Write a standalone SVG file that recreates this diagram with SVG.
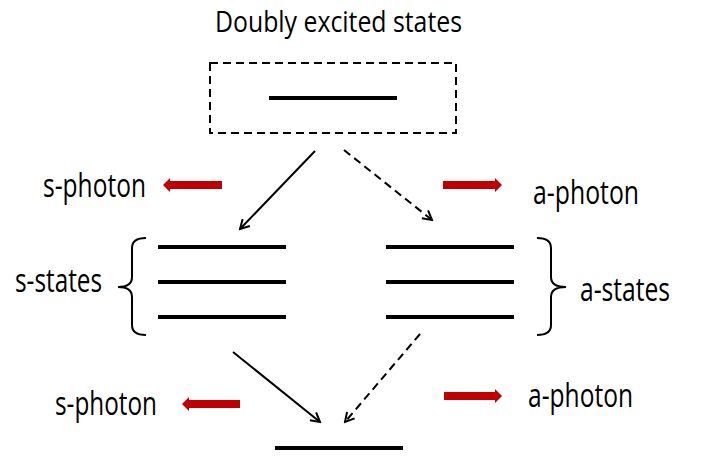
<svg xmlns="http://www.w3.org/2000/svg" width="708" height="460" viewBox="0 0 708 460">
<defs>
<style>
.t{font-family:"Open Sans","Liberation Sans",sans-serif;font-size:32px;fill:#000}
.lvl{stroke:#000;stroke-width:4;fill:none}
.ar{stroke:#000;stroke-width:2;fill:none}
.da{stroke-dasharray:8,5}
.br{stroke:#000;stroke-width:2;fill:none}
.ph{fill:#c00000}
</style>
<marker id="ah" markerWidth="12" markerHeight="12" refX="10" refY="6" orient="auto" markerUnits="userSpaceOnUse">
<path d="M1,1 L10,6 L1,11" fill="none" stroke="#000" stroke-width="2"/>
</marker>
</defs>
<rect width="708" height="460" fill="#fff"/>
<g id="doubly">
<text class="t" x="215" y="32" style="font-size:30px" textLength="247" lengthAdjust="spacingAndGlyphs">Doubly excited states</text>
<rect x="210" y="63" width="246" height="70" fill="none" stroke="#000" stroke-width="2" stroke-dasharray="8,5"/>
<line class="lvl" x1="269" y1="98" x2="397" y2="98"/>
</g>
<g id="s-states">
<line class="lvl" x1="158" y1="247" x2="286" y2="247"/>
<line class="lvl" x1="158" y1="282" x2="286" y2="282"/>
<line class="lvl" x1="158" y1="317" x2="286" y2="317"/>
<path class="br" d="M146,238 Q132,238 132,248 L132,277 Q132,287 118,287 Q132,287 132,297 L132,325 Q132,335 146,335"/>
<text class="t" x="15" y="292" textLength="87" lengthAdjust="spacingAndGlyphs">s-states</text>
</g>
<g id="a-states">
<line class="lvl" x1="386" y1="247" x2="514" y2="247"/>
<line class="lvl" x1="386" y1="282" x2="514" y2="282"/>
<line class="lvl" x1="386" y1="317" x2="514" y2="317"/>
<path class="br" d="M537,238 Q551,238 551,248 L551,277 Q551,287 566,287 Q551,287 551,297 L551,325 Q551,335 537,335"/>
<text class="t" x="580" y="301" textLength="90" lengthAdjust="spacingAndGlyphs">a-states</text>
</g>
<g id="ground">
<line class="lvl" x1="275" y1="448" x2="403" y2="448"/>
</g>
<g id="photons">
<polygon class="ph" points="163,185 170,178 170,181 222,181 222,189 170,189 170,192"/>
<text class="t" x="43" y="197" textLength="103" lengthAdjust="spacingAndGlyphs">s-photon</text>
<polygon class="ph" points="502,185 495,178 495,181 443,181 443,189 495,189 495,192"/>
<text class="t" x="533" y="204" textLength="106" lengthAdjust="spacingAndGlyphs">a-photon</text>
<polygon class="ph" points="182,404 189,397 189,400 240,400 240,408 189,408 189,411"/>
<text class="t" x="55" y="415" textLength="102" lengthAdjust="spacingAndGlyphs">s-photon</text>
<polygon class="ph" points="502,396 495,389 495,392 444,392 444,400 495,400 495,403"/>
<text class="t" x="528" y="407" textLength="105" lengthAdjust="spacingAndGlyphs">a-photon</text>
</g>
<g id="connectors">
<line class="ar" x1="315" y1="151" x2="240" y2="229" marker-end="url(#ah)"/>
<line class="ar da" x1="344" y1="150" x2="432" y2="220" marker-end="url(#ah)"/>
<line class="ar" x1="233" y1="352" x2="320" y2="422" marker-end="url(#ah)"/>
<line class="ar da" x1="420" y1="334" x2="345" y2="422" marker-end="url(#ah)"/>
</g>
</svg>
